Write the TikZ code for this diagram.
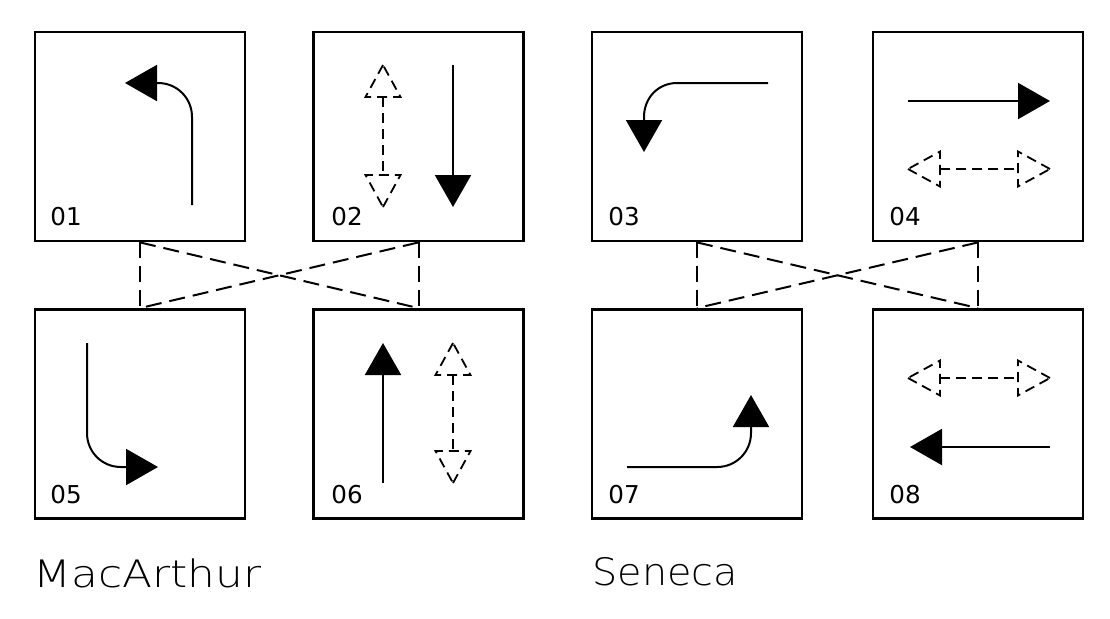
\documentclass[tikz,border=0pt]{standalone}
\usepackage{fontspec}
\setmainfont{DejaVu Sans ExtraLight}
\newfontfamily\numfont{DejaVu Sans}
\usetikzlibrary{arrows.meta}

\tikzset{
  panel/.style={draw=black,line width=1.4pt,minimum width=105pt,minimum height=104.5pt,inner sep=0pt},
  link/.style={black,line width=1pt,dash pattern=on 8pt off 4pt},
  solidarr/.style={black,line width=1pt,-{Triangle[length=16pt,width=18pt]}},
  dashshaft/.style={black,line width=0.9pt,dash pattern=on 5pt off 3pt},
  number/.style={inner sep=0pt,anchor=base west,font=\numfont\fontsize{12.3}{14}\selectfont},
  street/.style={inner sep=0pt,anchor=base west,font=\fontsize{18.9}{22}\selectfont},
  openhead/.pic={\draw[dashshaft] (0,0) -- (-32,-17.5) -- (-32,17.5) -- cycle;}
}

\begin{document}
\begin{tikzpicture}[x=0.5pt,y=-0.5pt]
  \useasboundingbox (0,0) rectangle (1110,618);

  % panels
  \node[panel] (b01) at (140,136.5) {};
  \node[panel] (b02) at (418.5,136.5) {};
  \node[panel] (b03) at (697,136.5) {};
  \node[panel] (b04) at (978,136.5) {};
  \node[panel] (b05) at (140,414) {};
  \node[panel] (b06) at (418.5,414) {};
  \node[panel] (b07) at (697,414) {};
  \node[panel] (b08) at (978,414) {};

  % phase links
  \draw[link] (b01.south) -- (b05.north);
  \draw[link] (b02.south) -- (b06.north);
  \draw[link] (b01.south) -- (b06.north);
  \draw[link] (b02.south) -- (b05.north);
  \draw[link] (b03.south) -- (b07.north);
  \draw[link] (b04.south) -- (b08.north);
  \draw[link] (b03.south) -- (b08.north);
  \draw[link] (b04.south) -- (b07.north);

  % 01
  \draw[solidarr] (192,205) -- (192,117) .. controls (192,98) and (177,83) .. (158,83) -- (125,83);
  % 02
  \pic[rotate=90] at (383,65) {openhead};
  \pic[rotate=-90] at (383,207) {openhead};
  \draw[dashshaft] (383,97) -- (383,175);
  \draw[solidarr] (453,65) -- (453,207);
  % 03
  \draw[solidarr] (768,83) -- (677,83) .. controls (658,83) and (644,98) .. (644,117) -- (644,152);
  % 04
  \draw[solidarr] (908,101) -- (1050,101);
  \pic[rotate=180] at (908,169) {openhead};
  \pic at (1050,169) {openhead};
  \draw[dashshaft] (940,169) -- (1018,169);
  % 05
  \draw[solidarr] (87,343) -- (87,433) .. controls (87,452) and (102,467) .. (121,467) -- (158,467);
  % 06
  \draw[solidarr] (383,483) -- (383,343);
  \pic[rotate=90] at (453,343) {openhead};
  \pic[rotate=-90] at (453,483) {openhead};
  \draw[dashshaft] (453,375) -- (453,451);
  % 07
  \draw[solidarr] (627,467) -- (717,467) .. controls (736,467) and (751,452) .. (751,433) -- (751,395);
  % 08
  \pic[rotate=180] at (908,378) {openhead};
  \pic at (1050,378) {openhead};
  \draw[dashshaft] (940,378) -- (1018,378);
  \draw[solidarr] (1050,447) -- (910,447);

  % numbers
  \node[number] (n01) at (50,225) {01};
  \node[number] (n02) at (331,225) {02};
  \node[number] (n03) at (608,225) {03};
  \node[number] (n04) at (889,225) {04};
  \node[number] (n05) at (50,503) {05};
  \node[number] (n06) at (331,503) {06};
  \node[number] (n07) at (608,503) {07};
  \node[number] (n08) at (889,503) {08};

  % streets
  \node[street] (lmac) at (33,587) {\scalebox{1.16}[1]{MacArthur}};
  \node[street] (lsen) at (592,585) {\scalebox{1.05}[1]{Seneca}};
\end{tikzpicture}
\end{document}
